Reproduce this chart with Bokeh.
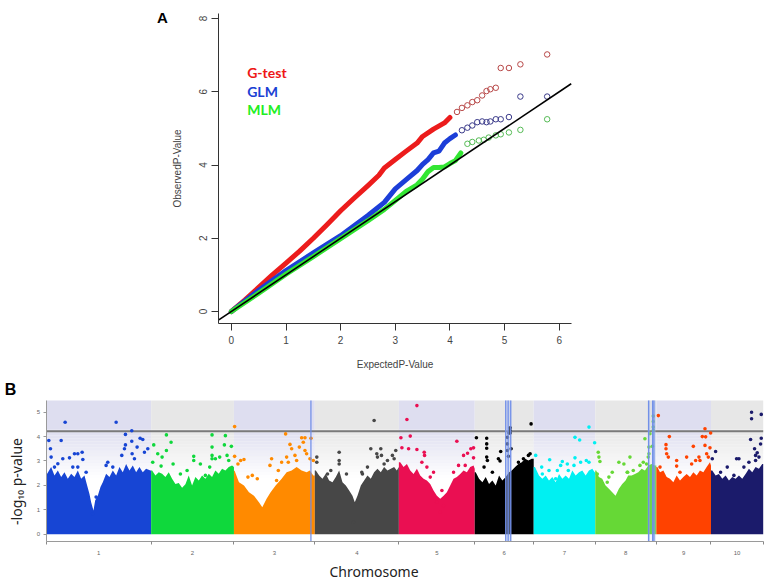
from math import pi
from bokeh.plotting import figure
from bokeh.models import Label, FixedTicker, Range1d, LinearAxis
from bokeh.embed import file_html
from bokeh.resources import INLINE

# ---------------- Panel A: QQ plot data (expected vs observed -log10 p) ----------------
qq_xlim = (-0.23, 6.22)
qq_ylim = (-0.336, 8.13)
qq_x_ticks = [0, 1, 2, 3, 4, 5, 6]
qq_y_ticks = [0, 2, 4, 6, 8]

gtest_line_exp = [0, 0.25, 0.5, 0.75, 1.0, 1.25, 1.5, 1.75, 2.0, 2.25, 2.5, 2.7, 2.8, 3.0, 3.2, 3.4, 3.5, 3.7, 3.9, 4.0]
gtest_line_obs = [0, 0.32, 0.66, 1.0, 1.32, 1.65, 2.0, 2.37, 2.75, 3.1, 3.44, 3.72, 3.92, 4.15, 4.38, 4.6, 4.78, 4.98, 5.15, 5.3]
gtest_tail_exp = [4.13, 4.22, 4.32, 4.41, 4.5, 4.59, 4.67, 4.74, 4.84, 4.93, 5.08, 5.29, 5.78]
gtest_tail_obs = [5.45, 5.56, 5.63, 5.72, 5.77, 5.9, 6.02, 6.07, 6.11, 6.65, 6.65, 6.75, 7.02]

glm_line_exp = [0, 0.5, 1.0, 1.5, 2.0, 2.5, 2.8, 3.0, 3.2, 3.4, 3.5, 3.6, 3.7, 3.8, 3.9, 4.0, 4.1]
glm_line_obs = [0, 0.58, 1.12, 1.6, 2.07, 2.62, 2.98, 3.35, 3.6, 3.85, 4.02, 4.15, 4.33, 4.38, 4.6, 4.72, 4.82]
glm_tail_exp = [4.22, 4.32, 4.41, 4.5, 4.59, 4.67, 4.74, 4.84, 4.93, 5.08, 5.29, 5.78]
glm_tail_obs = [4.95, 5.02, 5.08, 5.17, 5.19, 5.17, 5.19, 5.25, 5.25, 5.31, 5.87, 5.87]

mlm_line_exp = [0, 0.5, 1.0, 1.5, 2.0, 2.5, 2.8, 3.0, 3.2, 3.4, 3.5, 3.6, 3.7, 3.8, 3.9, 4.0, 4.1, 4.2]
mlm_line_obs = [0, 0.5, 1.02, 1.5, 1.99, 2.48, 2.79, 3.03, 3.28, 3.46, 3.62, 3.82, 3.93, 3.93, 3.95, 4.04, 4.12, 4.33]
mlm_tail_exp = [4.32, 4.41, 4.53, 4.62, 4.71, 4.84, 4.93, 5.08, 5.29, 5.78]
mlm_tail_obs = [4.58, 4.63, 4.67, 4.69, 4.75, 4.81, 4.84, 4.89, 4.96, 5.25]

# ---------------- Panel B: Manhattan plot data ----------------
chrom_names = ["1", "2", "3", "4", "5", "6", "7", "8", "9", "10"]
chrom_len_mb = [301.4, 237.9, 232.2, 241.5, 217.9, 169.4, 176.8, 175.4, 157.0, 150.0]
chrom_colors = ["#1745d4", "#0fd83c", "#ff8a00", "#474747", "#ea0f52",
                "#000000", "#00f0f2", "#66d836", "#ff4200", "#1b1b6b"]
mh_ylim = (-0.3, 5.48)
mh_y_ticks = [0, 1, 2, 3, 4, 5]
threshold = 4.22

# dense SNP cloud: upper edge (position Mb, -log10 p)
chr1_env_pos = [0, 2.8, 14.2, 23.8, 33.4, 43.0, 52.5, 62.1, 71.7, 81.2, 90.8, 100.4, 110.0, 117.6, 124.3, 129.1, 135.8, 140.6, 148.2, 155.9, 162.6, 172.1, 181.7, 191.3, 200.9, 210.4, 220.0, 229.6, 239.1, 248.7, 258.3, 267.8, 277.4, 287.0, 299.4, 301.4]
chr1_env_val = [2.48, 2.48, 2.75, 2.41, 2.61, 2.34, 2.54, 2.27, 2.48, 2.34, 2.61, 2.27, 2.41, 2.00, 1.65, 1.31, 0.97, 1.38, 1.58, 1.93, 2.13, 2.48, 2.34, 2.61, 2.41, 2.75, 2.54, 2.88, 2.61, 2.82, 2.54, 2.75, 2.54, 2.68, 2.61, 2.61]
chr2_env_pos = [0, 2.8, 12.3, 21.9, 31.5, 41.0, 50.6, 60.2, 69.8, 79.3, 88.9, 98.5, 108.0, 117.6, 127.2, 136.8, 146.3, 155.9, 165.5, 175.0, 184.6, 194.2, 203.7, 213.3, 222.9, 232.5, 237.9]
chr2_env_val = [2.61, 2.61, 2.41, 2.54, 2.48, 2.34, 2.54, 2.27, 2.06, 2.10, 1.90, 2.05, 2.41, 2.00, 2.34, 2.20, 2.41, 2.27, 2.48, 2.34, 2.61, 2.48, 2.68, 2.61, 2.75, 2.82, 2.75]
chr3_env_pos = [0, 1.9, 14.4, 28.8, 43.1, 57.5, 71.8, 81.4, 93.8, 105.3, 119.7, 137.0, 151.3, 165.7, 180.0, 194.4, 208.7, 218.3, 227.9, 232.2]
chr3_env_val = [2.60, 2.60, 2.13, 2.00, 1.72, 1.58, 1.31, 1.10, 1.45, 1.72, 2.00, 2.27, 2.54, 2.61, 2.75, 2.61, 2.54, 2.61, 2.41, 2.41]
chr4_env_pos = [0, 3.0, 12.5, 22.1, 31.7, 41.2, 50.8, 60.4, 70.0, 79.5, 89.1, 98.7, 108.2, 114.9, 122.6, 132.2, 141.7, 151.3, 160.9, 170.4, 180.0, 189.6, 199.1, 208.7, 218.3, 227.9, 235.5, 241.5]
chr4_env_val = [2.61, 2.61, 2.41, 2.27, 2.48, 2.20, 2.13, 2.34, 2.61, 2.13, 2.00, 1.79, 1.58, 1.31, 1.58, 2.00, 2.20, 2.41, 2.27, 2.54, 2.68, 2.54, 2.75, 2.61, 2.68, 2.75, 2.61, 2.75]
chr5_env_pos = [0, 3.9, 13.5, 23.1, 32.7, 42.2, 51.8, 61.4, 70.9, 80.5, 90.1, 99.6, 109.2, 118.8, 128.4, 137.9, 147.5, 157.1, 166.6, 176.2, 185.8, 195.3, 204.9, 214.5, 217.9]
chr5_env_val = [2.95, 2.95, 2.75, 2.88, 2.61, 2.47, 2.68, 2.41, 2.27, 2.20, 2.06, 1.79, 1.58, 1.45, 1.58, 1.72, 2.00, 2.27, 2.34, 2.47, 2.61, 2.54, 2.75, 2.82, 2.68]
chr6_env_pos = [0, 2.9, 12.4, 22.0, 31.6, 41.1, 50.7, 60.3, 69.8, 79.4, 89.0, 98.6, 106.4, 116.0, 125.5, 135.1, 144.7, 154.2, 163.8, 169.4]
chr6_env_val = [2.54, 2.54, 2.27, 2.13, 2.34, 2.06, 2.20, 2.00, 2.41, 2.20, 2.34, 2.54, 2.61, 2.75, 2.88, 2.95, 3.09, 3.02, 3.09, 3.09]
chr7_env_pos = [0, 3.7, 15.2, 24.8, 34.4, 43.9, 53.5, 63.1, 72.7, 82.2, 91.8, 101.4, 110.9, 120.5, 130.1, 139.6, 149.2, 158.8, 168.4, 175.0, 176.8]
chr7_env_val = [2.75, 2.75, 2.41, 2.27, 2.41, 2.20, 2.34, 2.13, 2.47, 2.27, 2.41, 2.27, 2.61, 2.41, 2.54, 2.61, 2.41, 2.61, 2.68, 2.54, 2.54]
chr8_env_pos = [0, 2.8, 10.5, 20.0, 29.6, 39.2, 48.8, 58.3, 67.9, 77.5, 87.1, 94.7, 104.4, 114.0, 123.6, 133.2, 142.7, 152.3, 161.9, 171.4, 175.4]
chr8_env_val = [2.61, 2.61, 2.34, 2.27, 2.00, 1.86, 1.72, 1.58, 1.86, 2.06, 2.20, 2.41, 2.41, 2.47, 2.54, 2.68, 2.61, 2.82, 2.88, 2.82, 2.82]
chr9_env_pos = [0, 2.9, 10.6, 20.2, 29.7, 39.3, 48.9, 58.4, 68.0, 77.6, 87.1, 96.7, 106.3, 115.9, 125.4, 135.0, 144.6, 154.1, 157.0]
chr9_env_val = [2.75, 2.75, 2.54, 2.61, 2.34, 2.27, 2.13, 2.41, 2.20, 2.34, 2.47, 2.34, 2.54, 2.41, 2.61, 2.54, 2.75, 2.95, 2.82]
chr10_env_pos = [0, 3.7, 13.3, 22.8, 32.4, 42.0, 51.6, 61.1, 70.7, 80.3, 89.8, 99.4, 109.0, 118.5, 128.1, 137.7, 147.3, 150.0]
chr10_env_val = [2.61, 2.61, 2.41, 2.47, 2.27, 2.41, 2.20, 2.34, 2.27, 2.41, 2.27, 2.47, 2.68, 2.54, 2.75, 2.68, 2.88, 2.88]

# individual SNPs standing above the cloud (position Mb, -log10 p)
chr1_snp_pos = [54.4, 200.9, 245.8, 227.6, 7.5, 43.0, 269.8, 277.4, 245.8, 227.6, 12.3, 261.1, 282.2, 103.2, 81.2, 90.8, 14.2, 66.9, 105.2, 47.7, 217.1, 224.8, 176.9, 33.4, 90.8, 114.7, 133.9, 143.4, 246.8, 253.5, 291.8, 172.1, 191.3, 23.8, 76.4]
chr1_snp_val = [4.59, 4.59, 4.24, 4.09, 3.84, 3.84, 3.93, 3.88, 3.81, 3.66, 3.50, 3.57, 3.36, 3.36, 3.30, 3.30, 3.16, 3.13, 3.06, 3.09, 3.23, 3.50, 2.95, 2.89, 2.75, 2.54, 0.84, 1.52, 3.30, 3.09, 3.50, 2.82, 2.75, 2.75, 2.75]
chr2_snp_pos = [7.5, 19.0, 4.6, 43.9, 175.0, 213.3, 57.3, 43.9, 175.0, 210.4, 230.5, 122.4, 122.4, 63.1, 175.0, 175.0, 184.6, 197.0, 141.5, 168.3, 31.5, 28.6, 103.3, 84.1, 155.9, 218.1, 222.9]
chr2_snp_val = [3.66, 3.30, 2.95, 4.07, 4.07, 4.04, 3.77, 3.43, 3.57, 3.66, 3.60, 3.19, 3.02, 2.88, 3.23, 3.09, 3.09, 3.16, 2.88, 2.75, 3.16, 2.79, 2.61, 2.47, 2.41, 3.23, 3.02]
chr3_snp_pos = [1.9, 1.9, 11.5, 19.2, 28.8, 108.2, 103.4, 122.5, 67.0, 52.7, 40.2, 148.4, 194.4, 204.0, 221.2, 160.9, 199.2, 165.7, 187.7, 204.0, 208.7, 151.3, 175.2, 137.0, 218.3, 127.4, 156.1, 180.0, 227.9]
chr3_snp_val = [4.41, 3.19, 2.88, 3.02, 3.06, 3.09, 2.82, 2.20, 2.27, 2.41, 2.34, 4.11, 3.95, 3.95, 3.93, 3.68, 3.77, 3.50, 3.57, 3.43, 3.30, 3.16, 3.23, 2.95, 3.09, 2.61, 2.95, 3.02, 3.02]
chr4_snp_pos = [170.4, 70.0, 70.0, 70.0, 5.8, 5.8, 46.0, 36.5, 91.0, 160.9, 189.6, 191.5, 180.0, 199.1, 232.6, 227.9, 151.3, 136.9, 111.0, 122.6, 178.1, 208.7, 223.0, 135.0]
chr4_snp_val = [4.66, 3.36, 3.02, 2.88, 3.16, 2.95, 2.61, 2.47, 2.47, 3.50, 3.50, 3.23, 3.16, 2.88, 3.43, 3.09, 2.75, 2.47, 0.49, 1.31, 3.30, 3.02, 3.23, 2.54]
chr5_snp_pos = [51.8, 23.1, 5.9, 32.7, 166.6, 8.7, 27.9, 51.8, 72.8, 73.8, 206.8, 214.5, 214.5, 185.8, 197.3, 171.4, 190.6, 66.1, 90.1, 99.6, 123.6, 109.2, 118.8, 128.4, 80.5, 157.1]
chr5_snp_val = [5.27, 4.70, 3.95, 4.02, 3.81, 3.54, 3.50, 3.47, 3.36, 3.23, 3.50, 3.54, 3.13, 3.23, 3.32, 2.82, 2.82, 2.95, 2.34, 2.54, 1.79, 1.31, 0.90, 1.17, 2.75, 2.54]
chr6_snp_pos = [4.8, 34.4, 34.4, 34.4, 34.4, 36.4, 74.6, 68.0, 72.7, 93.8, 93.8, 98.6, 26.8, 50.7, 17.2, 93.8, 161.9, 101.6, 101.6, 101.6, 104.5, 96.8, 154.2, 159.0, 139.9, 125.5, 146.6, 135.1]
chr6_snp_val = [3.95, 3.93, 3.70, 3.52, 3.16, 3.02, 3.39, 3.09, 3.00, 3.43, 3.70, 4.15, 2.75, 2.54, 1.72, 3.97, 4.52, 4.36, 4.25, 4.15, 3.50, 3.19, 3.23, 3.30, 3.09, 2.95, 2.98, 1.58]
chr7_snp_pos = [158.8, 118.6, 132.0, 175.0, 5.7, 45.9, 82.2, 118.6, 115.7, 134.9, 151.1, 158.8, 22.9, 67.9, 96.6, 99.4, 43.9, 77.4, 63.1, 24.8]
chr7_snp_val = [4.39, 3.97, 3.86, 3.75, 3.23, 3.05, 2.98, 3.13, 2.82, 2.95, 3.02, 2.95, 2.75, 2.61, 2.88, 2.61, 2.61, 2.82, 2.27, 2.47]
chr8_snp_pos = [8.6, 10.5, 13.4, 5.7, 34.4, 67.9, 82.3, 91.8, 48.8, 39.2, 166.6, 166.6, 166.6, 154.2, 163.8, 152.3, 147.5, 154.2, 99.7, 137.9, 128.4, 93.0, 109.2, 142.7, 157.1, 166.6]
chr8_snp_val = [3.36, 3.16, 2.98, 2.47, 2.13, 2.95, 2.88, 2.54, 2.54, 2.34, 4.84, 4.62, 4.39, 3.57, 3.60, 3.16, 2.88, 3.30, 3.16, 2.95, 2.82, 2.54, 2.61, 3.91, 4.12, 4.25]
chr9_snp_pos = [5.8, 139.8, 132.1, 141.7, 156.0, 37.4, 106.3, 139.8, 154.1, 27.8, 27.8, 29.7, 34.5, 58.4, 58.4, 87.1, 122.5, 125.4, 101.5, 113.0, 10.6, 68.0, 149.3, 144.6]
chr9_snp_val = [4.86, 4.32, 4.00, 3.99, 4.15, 4.00, 3.60, 3.64, 3.54, 3.67, 3.50, 3.30, 3.16, 3.02, 2.79, 3.16, 3.16, 3.02, 2.88, 3.02, 2.75, 2.54, 3.16, 3.30]
chr10_snp_pos = [116.6, 116.6, 144.4, 113.8, 144.4, 142.5, 13.3, 3.7, 73.6, 80.3, 94.6, 125.2, 132.9, 137.7, 128.1, 27.6, 46.8, 65.9, 109.0, 128.1]
chr10_snp_val = [5.00, 4.73, 4.91, 3.88, 3.93, 3.70, 3.39, 3.09, 3.09, 3.09, 2.75, 3.50, 3.34, 3.16, 3.02, 2.54, 2.75, 2.41, 2.95, 3.23]

# highlighted loci (chromosome number, position Mb) and highlighted intervals
highlight_chrom = [3, 6, 6, 6, 8, 8, 8]
highlight_pos = [221.1, 89.0, 96.0, 103.4, 153.4, 164.9, 168.6]
region_chrom = [6, 8, 8]
region_start = [87.3, 150.5, 162.0]
region_end = [105.4, 158.0, 173.5]

env_pos = [chr1_env_pos, chr2_env_pos, chr3_env_pos, chr4_env_pos, chr5_env_pos,
           chr6_env_pos, chr7_env_pos, chr8_env_pos, chr9_env_pos, chr10_env_pos]
env_val = [chr1_env_val, chr2_env_val, chr3_env_val, chr4_env_val, chr5_env_val,
           chr6_env_val, chr7_env_val, chr8_env_val, chr9_env_val, chr10_env_val]
snp_pos = [chr1_snp_pos, chr2_snp_pos, chr3_snp_pos, chr4_snp_pos, chr5_snp_pos,
           chr6_snp_pos, chr7_snp_pos, chr8_snp_pos, chr9_snp_pos, chr10_snp_pos]
snp_val = [chr1_snp_val, chr2_snp_val, chr3_snp_val, chr4_snp_val, chr5_snp_val,
           chr6_snp_val, chr7_snp_val, chr8_snp_val, chr9_snp_val, chr10_snp_val]

# ---------------- layout (pixels; page has no margin with Bokeh's template) ----------------
W = 767
HA, HB = 376, 210
# panel A plot box (canvas pixels, y down)
A_left, A_right, A_top, A_bottom = 218.3, 570.7, 13.3, 323.3
# panel B plot box
B_left, B_right, B_top, B_bottom = 45.7, 762.7, 24.0, 165.0


def outer_range(lo, hi, p_lo, p_hi, size):
    """Extend data range [lo, hi] (drawn between pixels p_lo..p_hi) to the whole canvas 0..size."""
    k = (hi - lo) / (p_hi - p_lo)
    return lo - p_lo * k, hi + (size - p_hi) * k


def bare_figure(w, h, xr, yr):
    f = figure(width=w, height=h, x_range=Range1d(*xr), y_range=Range1d(*yr),
               x_axis_location=None, y_axis_location=None,
               min_border_left=0, min_border_right=0, min_border_top=0, min_border_bottom=0,
               output_backend="svg", toolbar_location=None)
    f.outline_line_color = None
    f.grid.visible = False
    f.background_fill_color = "white"
    f.border_fill_color = "white"
    return f


# =============================== Panel A ===============================
ax_x = outer_range(qq_xlim[0], qq_xlim[1], A_left, A_right, W)
ay = outer_range(qq_ylim[0], qq_ylim[1], HA - A_bottom, HA - A_top, HA)
qq = bare_figure(W, HA, ax_x, ay)

xa = LinearAxis(fixed_location=qq_ylim[0], bounds=qq_xlim, ticker=FixedTicker(ticks=qq_x_ticks),
                axis_label="ExpectedP-Value")
ya = LinearAxis(fixed_location=qq_xlim[0], bounds=qq_ylim, ticker=FixedTicker(ticks=qq_y_ticks),
                axis_label="ObservedP-Value")
for ax in (xa, ya):
    ax.axis_line_color = "#333333"
    ax.major_tick_line_color = "#333333"
    ax.major_tick_out = 7
    ax.major_tick_in = 0
    ax.minor_tick_line_color = None
    ax.major_label_text_font = "Liberation Sans"
    ax.major_label_text_font_size = "10px"
    ax.major_label_text_color = "#444444"
    ax.axis_label_text_font = "Liberation Sans"
    ax.axis_label_text_font_size = "10px"
    ax.axis_label_text_font_style = "normal"
    ax.axis_label_text_color = "#444444"
    ax.major_label_standoff = 5
xa.axis_label_standoff = 12
ya.axis_label_standoff = 13
ya.major_label_orientation = "vertical"
qq.add_layout(xa, "below")
qq.add_layout(ya, "left")

qq.line(gtest_line_exp, gtest_line_obs, line_width=5, line_color="#ec1c1c", line_cap="round", line_join="round")
qq.line(glm_line_exp, glm_line_obs, line_width=5, line_color="#1c3ed8", line_cap="round", line_join="round")
qq.line(mlm_line_exp, mlm_line_obs, line_width=5, line_color="#33e633", line_cap="round", line_join="round")
qq.scatter(gtest_tail_exp, gtest_tail_obs, marker="circle", size=5.5, fill_color=None, line_color="#b84848", line_width=1)
qq.scatter(glm_tail_exp, glm_tail_obs, marker="circle", size=5.5, fill_color=None, line_color="#3a3a8a", line_width=1)
qq.scatter(mlm_tail_exp, mlm_tail_obs, marker="circle", size=5.5, fill_color=None, line_color="#55bb55", line_width=1)
# y = x reference line across the plot box
qq.line(list(qq_xlim), list(qq_xlim), line_color="black", line_width=1.6)

for txt, yy, col in (("G-test", 6.54, "#ee1616"), ("GLM", 6.02, "#1b3fd4"), ("MLM", 5.51, "#22ee22")):
    qq.add_layout(Label(x=0.29, y=yy, text=txt, text_font="Lato", text_font_style="bold",
                        text_font_size="14px", text_color=col, text_baseline="middle"))
qq.add_layout(Label(x=162, y=HA - 17, x_units="screen", y_units="screen", text="A",
                    text_font="Liberation Sans", text_font_style="bold", text_font_size="15px",
                    text_color="black", text_align="center", text_baseline="middle"))

# =============================== Panel B ===============================
offsets = []
acc = 0.0
for L in chrom_len_mb:
    offsets.append(acc)
    acc += L
total_len = acc
centers = [o + L / 2 for o, L in zip(offsets, chrom_len_mb)]
bounds = offsets + [total_len]

bx = outer_range(0, total_len, B_left, B_right, W)
by = outer_range(mh_ylim[0], mh_ylim[1], HB - B_bottom, HB - B_top, HB)
mh = bare_figure(W, HB, bx, by)

# alternating shaded chromosome bands fading downward
band_l, band_r, band_b, band_t, band_c, band_a = [], [], [], [], [], []
y_fade_top, y_fade_bot, nstrip = 4.3, 2.3, 16
for i, (o, L) in enumerate(zip(offsets, chrom_len_mb)):
    col = "#dedef0" if i % 2 == 0 else "#e7e7e7"
    band_l.append(o); band_r.append(o + L); band_b.append(y_fade_top); band_t.append(mh_ylim[1])
    band_c.append(col); band_a.append(1.0)
    dy = (y_fade_top - y_fade_bot) / nstrip
    for k in range(nstrip):
        band_l.append(o); band_r.append(o + L)
        band_t.append(y_fade_top - k * dy); band_b.append(y_fade_top - (k + 1) * dy)
        band_c.append(col); band_a.append(1.0 - (k + 0.5) / nstrip)
mh.quad(left=band_l, right=band_r, bottom=band_b, top=band_t, fill_color=band_c,
        fill_alpha=band_a, line_color=None)

# significance threshold
mh.line([0, total_len], [threshold, threshold], line_color="#7a7a7a", line_width=2)

for i in range(10):
    o = offsets[i]
    col = chrom_colors[i]
    mh.varea(x=[o + p for p in env_pos[i]], y1=0, y2=env_val[i], fill_color=col)
    mh.scatter([o + p for p in snp_pos[i]], snp_val[i], marker="circle", size=3.6,
               fill_color=col, line_color=None)

for c, s, e in zip(region_chrom, region_start, region_end):
    o = offsets[c - 1]
    mh.quad(left=o + s, right=o + e, bottom=mh_ylim[0], top=mh_ylim[1], fill_color="#a9bdf0",
            fill_alpha=0.45, line_color=None)
hx = [offsets[c - 1] + p for c, p in zip(highlight_chrom, highlight_pos)]
mh.segment(x0=hx, x1=hx, y0=mh_ylim[0], y1=mh_ylim[1], line_color="#6d8ce8", line_width=1.2)

bxa = LinearAxis(fixed_location=mh_ylim[0], bounds=(0, total_len),
                 ticker=FixedTicker(ticks=centers, minor_ticks=bounds))
bxa.major_label_overrides = {c: n for c, n in zip(centers, chrom_names)}
bxa.major_tick_line_color = None
bxa.minor_tick_line_color = "#888888"
bxa.minor_tick_out = 3
bxa.minor_tick_in = 0
bya = LinearAxis(fixed_location=0, bounds=mh_ylim, ticker=FixedTicker(ticks=mh_y_ticks))
bya.minor_tick_line_color = None
bya.major_tick_line_color = "#999999"
bya.major_tick_out = 3
bya.major_tick_in = 0
for ax in (bxa, bya):
    ax.axis_line_color = "#9a9a9a"
    ax.major_label_text_font = "Liberation Sans"
    ax.major_label_text_font_size = "6px"
    ax.major_label_text_color = "#666666"
    ax.major_label_standoff = 3
mh.add_layout(bxa, "below")
mh.add_layout(bya, "left")

mh.add_layout(Label(x=373.5, y=HB - 195, x_units="screen", y_units="screen",
                    text="Chromosome", text_font="Noto Sans", text_font_size="14px",
                    text_color="#222222", text_align="center", text_baseline="middle"))
mh.add_layout(Label(x=16, y=HB - 105, x_units="screen", y_units="screen",
                    text="-log\u2081\u2080 p-value", text_font="Noto Sans", text_font_size="14px",
                    text_color="#222222", text_align="center", text_baseline="middle",
                    angle=pi / 2))
mh.add_layout(Label(x=10, y=HB - 13, x_units="screen", y_units="screen", text="B",
                    text_font="Liberation Sans", text_font_style="bold", text_font_size="16px",
                    text_color="black", text_align="center", text_baseline="middle"))

open("out.html", "w").write(file_html([qq, mh], INLINE))
